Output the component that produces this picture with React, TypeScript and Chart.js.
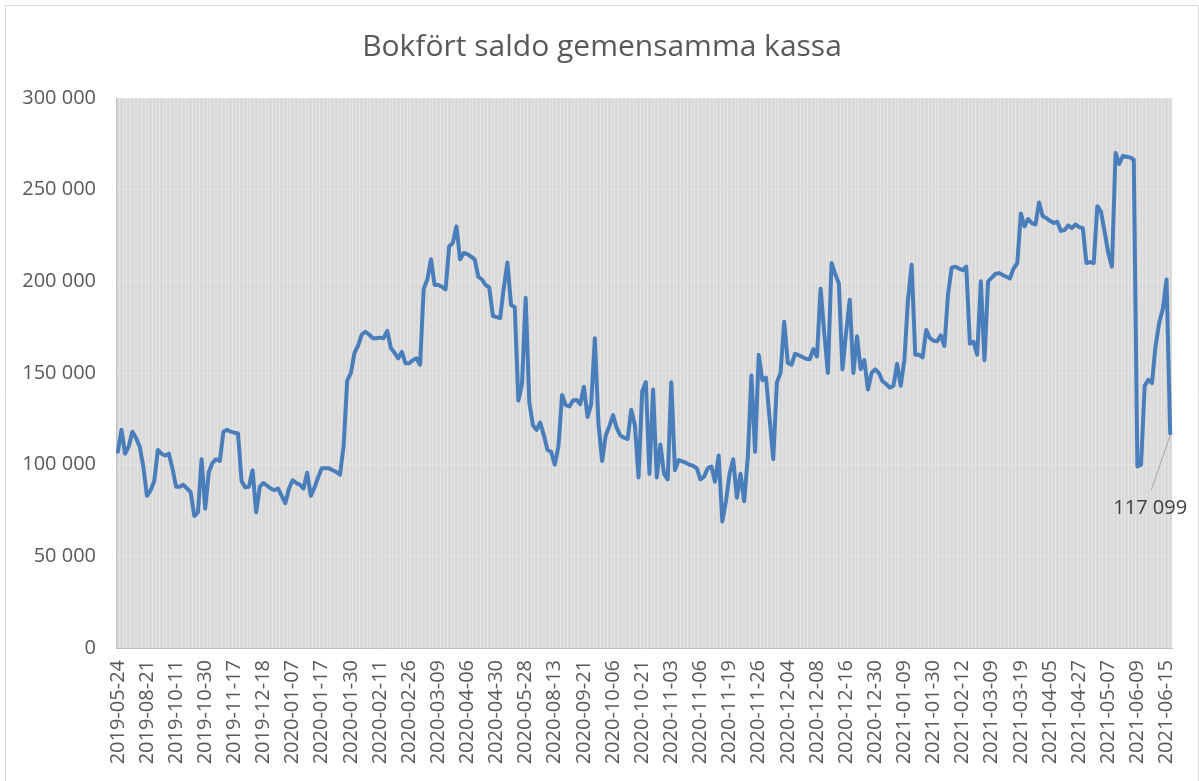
import { useEffect, useRef } from 'react';
import { Chart, registerables } from 'chart.js';

Chart.register(...registerables);

const TITLE = 'Bokfört saldo gemensamma kassa';

// Dates shown on the category axis (every 8th category)
const tickDates = [
  '2019-05-24', '2019-08-21', '2019-10-11', '2019-10-30', '2019-11-17', '2019-12-18',
  '2020-01-07', '2020-01-17', '2020-01-30', '2020-02-11', '2020-02-26', '2020-03-09',
  '2020-04-06', '2020-04-30', '2020-05-28', '2020-08-13', '2020-09-21', '2020-10-06',
  '2020-10-21', '2020-11-03', '2020-11-06', '2020-11-19', '2020-11-26', '2020-12-04',
  '2020-12-08', '2020-12-16', '2020-12-30', '2021-01-09', '2021-01-30', '2021-02-12',
  '2021-03-09', '2021-03-19', '2021-04-05', '2021-04-27', '2021-05-07', '2021-06-09',
  '2021-06-15',
];
const LABEL_STEP = 8;

// Balance (SEK)
const saldo2019 = [
  107000, 119000, 106000, 110000, 118000, 114500, 110000, 99000, 83000, 86000,
  91000, 108000, 106000, 105000, 106000, 98000, 88000, 88000, 89000, 87000,
  85000, 72000, 74000, 103000, 76000, 96000, 101000, 103000, 102000, 118000,
  119000, 118000, 117500, 117000, 91000, 87600, 88000, 97000, 74000, 88000,
  90000, 88500, 87000, 86000, 87000, 83000, 79000, 87000,
];
const saldo2020a = [
  91500, 90000, 89000, 87000, 95600, 83000, 87500, 93000, 98000, 98000,
  98000, 97000, 96000, 94500, 110000, 146000, 150000, 161000, 165000, 171000,
  172500, 171000, 169000, 169000, 169300, 169000, 173000, 163500, 161000, 158000,
  161500, 155300, 155300, 157000, 158000, 154500, 196000, 201000, 212000, 198000,
  198000, 197000, 195600, 219000, 221000, 230000, 212000, 215500, 214800, 213500,
  212000, 202500, 201000, 198000, 196700, 181200, 180500, 180000, 196500, 210200,
  187000, 186000, 135000, 144000, 191000, 134000, 121500, 119000, 123000, 116000,
  108000, 107000,
];
const saldo2020b = [
  100000, 110000, 138000, 132500, 131800, 135000, 135300, 133000, 142500, 126000,
  133000, 169000, 122000, 102000, 116000, 121000, 127000, 120000, 116000, 114700,
  114000, 130000, 121500, 93000, 140000, 145000, 95000, 141000, 93000, 111000,
  95000, 92000, 145000, 97000, 102500, 101800, 101000, 100000, 99300, 98000,
  92000, 93500, 98000, 99000, 90700, 105000, 69000, 80000, 95000, 103000,
  82000, 95000, 80000, 104000, 148600, 107000, 160000, 146000, 147500, 125000,
  103000, 145000, 150000, 178000, 155500, 154500, 160500, 159700, 158700, 157800,
  157500, 163000, 159000, 196000, 172000, 150000, 210000, 204000, 199000, 152000,
  172000, 190000, 150000, 170000, 152000, 157000, 141000, 150000, 152000, 150000,
  145500, 144000, 142000, 143000,
];
const saldo2021 = [
  155000, 143000, 157000, 190000, 209000, 160000, 160000, 158500, 173500, 169000,
  167600, 167300, 170500, 164700, 193000, 207500, 208000, 207000, 206000, 208000,
  166000, 167000, 160000, 200000, 157000, 200000, 202000, 204000, 204500, 203500,
  202500, 201600, 207000, 209800, 237000, 230000, 234000, 231700, 231000, 243000,
  235500, 234500, 233000, 231800, 232500, 227500, 228000, 230500, 229000, 231000,
  229600, 229000, 210000, 210500, 210000, 241000, 238000, 227000, 215500, 208000,
  270000, 264000, 268400, 268000, 267600, 266300, 99000, 100000, 143000, 146300,
  144500, 165000, 177500, 185000, 201000, 117099,
];

const Y_MIN = 0;
const Y_MAX = 300000;
const Y_STEP = 50000;

const saldo = [...saldo2019, ...saldo2020a, ...saldo2020b, ...saldo2021];
const categories = saldo.map((_, i) =>
  i % LABEL_STEP === 0 ? tickDates[i / LABEL_STEP] ?? '' : ''
);

const FONT = '"Open Sans", "DejaVu Sans", sans-serif';
const fmt = (v: number) =>
  Math.round(v).toString().replace(/\B(?=(\d{3})+(?!\d))/g, ' ');

const decorPlugin = {
  id: 'decor',
  beforeDraw(chart: any) {
    const { ctx, chartArea } = chart;
    ctx.save();
    ctx.fillStyle = '#d9d9d9';
    ctx.fillRect(chartArea.left, chartArea.top, chartArea.right - chartArea.left, chartArea.bottom - chartArea.top);
    ctx.restore();
  },
  afterDatasetsDraw(chart: any) {
    const { ctx } = chart;
    const meta = chart.getDatasetMeta(0);
    const pt = meta.data[meta.data.length - 1];
    if (!pt) return;
    ctx.save();
    ctx.strokeStyle = '#a6a6a6';
    ctx.lineWidth = 1;
    ctx.beginPath();
    ctx.moveTo(pt.x, pt.y + 2);
    ctx.lineTo(pt.x - 19, pt.y + 57);
    ctx.stroke();
    ctx.fillStyle = '#404040';
    ctx.font = `20px ${FONT}`;
    ctx.textAlign = 'center';
    ctx.textBaseline = 'middle';
    ctx.fillText(fmt(saldo[saldo.length - 1]), pt.x - 20, pt.y + 75);
    ctx.restore();
  },
  afterDraw(chart: any) {
    const { ctx, width, height } = chart;
    ctx.save();
    // chart title
    ctx.fillStyle = '#595959';
    ctx.font = `30px ${FONT}`;
    ctx.textAlign = 'center';
    ctx.textBaseline = 'middle';
    ctx.fillText(TITLE, (5 + width) / 2, 47);
    // chart border
    ctx.strokeStyle = '#d9d9d9';
    ctx.lineWidth = 1;
    ctx.beginPath();
    ctx.moveTo(5.5, height);
    ctx.lineTo(5.5, 5.5);
    ctx.lineTo(width - 0.5, 5.5);
    ctx.lineTo(width - 0.5, height);
    ctx.stroke();
    ctx.restore();
  },
};

export default function App() {
  const ref = useRef<HTMLCanvasElement>(null);
  useEffect(() => {
    document.body.style.margin = '0';
    const chart = new Chart(ref.current as HTMLCanvasElement, {
      type: 'line',
      data: {
        labels: categories,
        datasets: [
          {
            label: 'Saldo',
            data: saldo,
            borderColor: '#4a7ebb',
            borderWidth: 4,
            pointRadius: 0,
            tension: 0,
            borderJoinStyle: 'round',
            borderCapStyle: 'round',
            fill: false,
          },
        ],
      },
      options: {
        animation: false,
        responsive: false,
        layout: { padding: { left: 0, right: 27, top: 98, bottom: 0 } },
        plugins: {
          legend: { display: false },
          tooltip: { enabled: false },
          title: { display: false },
        },
        scales: {
          x: {
            type: 'category',
            offset: true,
            grid: {
              display: true,
              offset: true,
              color: 'rgba(255,255,255,0.33)',
              lineWidth: 1,
              drawTicks: false,
            },
            border: { display: true, color: '#bfbfbf', width: 1 },
            ticks: {
              autoSkip: false,
              minRotation: 90,
              maxRotation: 90,
              padding: 12,
              color: '#595959',
              font: { family: FONT, size: 20 },
            },
            afterFit(scale: any) {
              scale.height = 133;
              scale.paddingLeft = 0;
              scale.paddingRight = 0;
            },
          },
          y: {
            min: Y_MIN,
            max: Y_MAX,
            ticks: {
              stepSize: Y_STEP,
              padding: 20,
              color: '#595959',
              font: { family: FONT, size: 20 },
              callback: (v: any) => fmt(Number(v)),
            },
            grid: { color: '#e3e3e3', lineWidth: 1, drawTicks: false },
            border: { display: true, color: '#bfbfbf', width: 1 },
            afterFit(scale: any) {
              scale.width = 116;
              scale.paddingTop = 0;
              scale.paddingBottom = 0;
            },
          },
        },
      },
      plugins: [decorPlugin],
    } as any);
    return () => chart.destroy();
  }, []);
  return (
    <div style={{ width: 1199, height: 781 }}>
      <canvas ref={ref} width={1199} height={781} style={{ display: 'block' }} />
    </div>
  );
}
